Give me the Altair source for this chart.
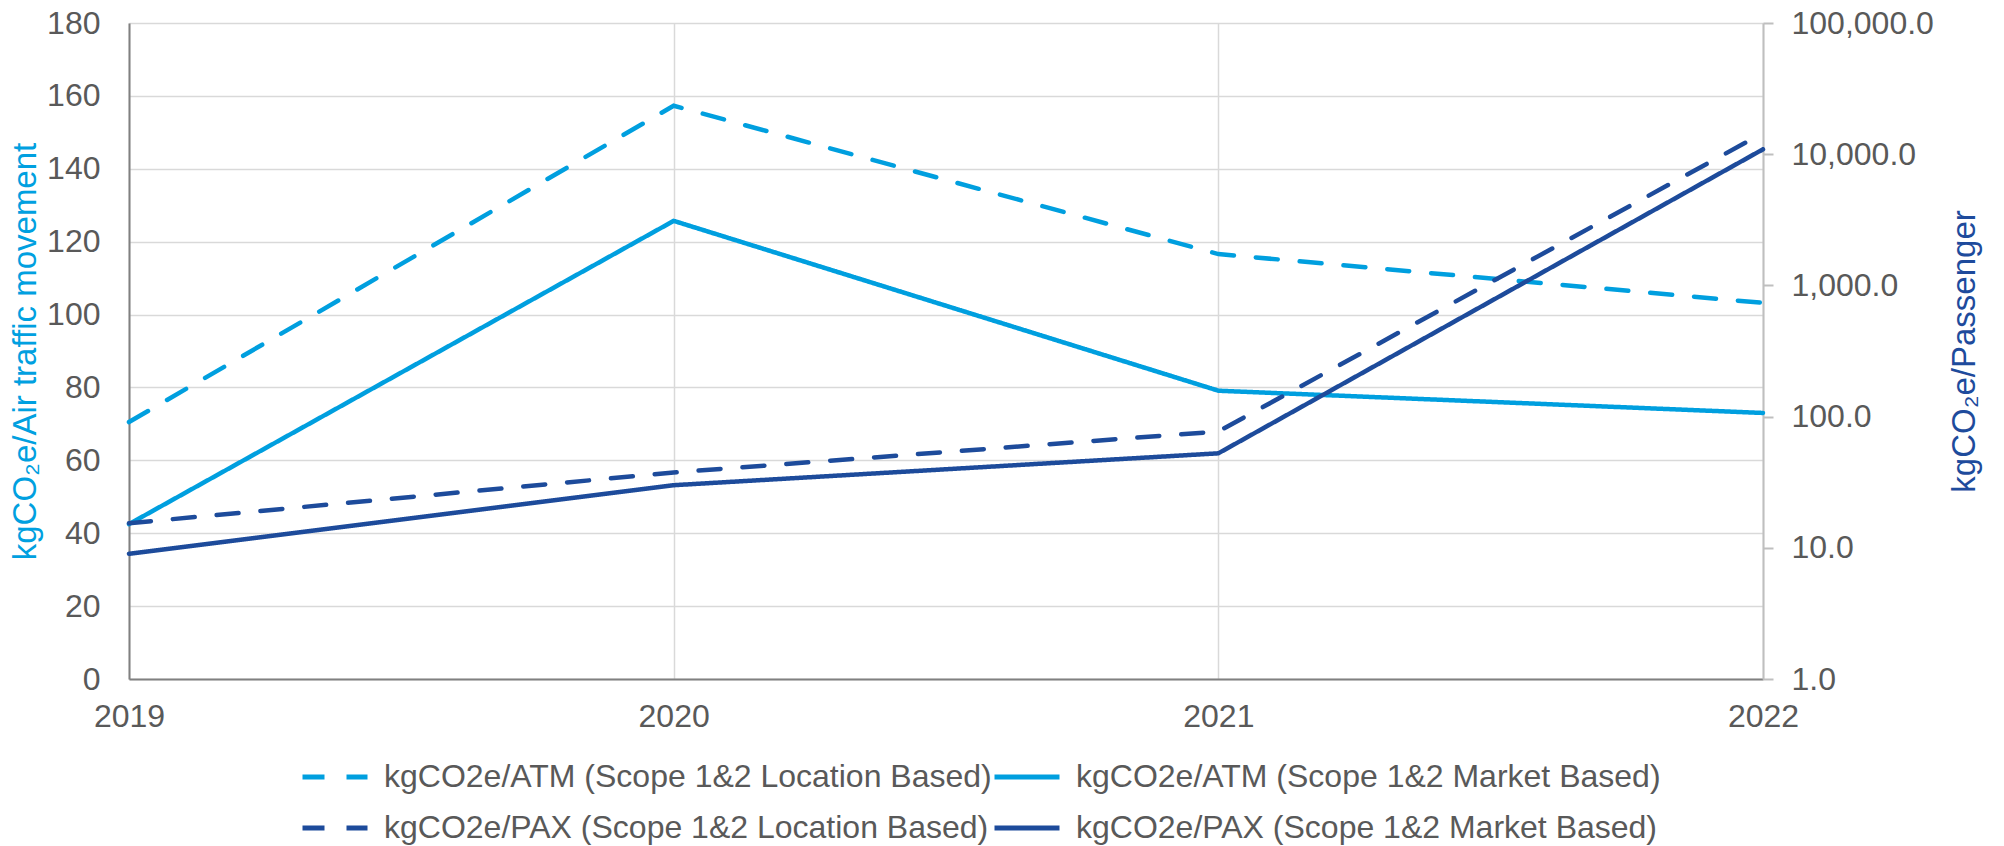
import altair as alt
import pandas as pd

years = [2019, 2020, 2021, 2022]
atm_location = [70.5, 157.3, 116.6, 103.2]
atm_market = [42.5, 125.7, 79.1, 73.0]
pax_location = [15.4, 37.5, 77.0, 14500.0]
pax_market = [9.0, 30.0, 52.5, 10900.0]

series_names = [
    "kgCO2e/ATM (Scope 1&2 Location Based)",
    "kgCO2e/ATM (Scope 1&2 Market Based)",
    "kgCO2e/PAX (Scope 1&2 Location Based)",
    "kgCO2e/PAX (Scope 1&2 Market Based)",
]
series_colors = ["#009FDF", "#009FDF", "#1D4B9B", "#1D4B9B"]
series_dashes = [[22, 22], [1, 0], [22, 22], [1, 0]]

left_ticks = list(range(0, 181, 20))
right_ticks = [1, 10, 100, 1000, 10000, 100000]

rows = []
for name, vals in zip(series_names, [atm_location, atm_market, pax_location, pax_market]):
    for y, v in zip(years, vals):
        rows.append({"year": y, "value": v, "series": name})
df = pd.DataFrame(rows)
atm_df = df[df["series"].isin(series_names[:2])]
pax_df = df[df["series"].isin(series_names[2:])]

FONT = "Liberation Sans"

legend_cfg = dict(
    orient="none",
    direction="horizontal",
    legendX=171,
    legendY=719,
    columns=2,
    symbolType="stroke",
    symbolSize=4225,
    symbolStrokeWidth=5,
    labelFontSize=32,
    labelFont=FONT,
    labelColor="#595959",
    labelLimit=1000,
    labelOffset=14,
    columnPadding=-8,
    rowPadding=-16,
)

color_enc = alt.Color(
    "series:N",
    scale=alt.Scale(domain=series_names, range=series_colors),
    legend=alt.Legend(**legend_cfg),
    title=None,
)
dash_enc = alt.StrokeDash(
    "series:N",
    scale=alt.Scale(domain=series_names, range=series_dashes),
    legend=alt.Legend(**legend_cfg),
    title=None,
)

x_scale = alt.Scale(domain=[2019, 2022], nice=False, zero=False)
x_axis = alt.Axis(
    values=years,
    format="d",
    title=None,
    ticks=False,
    tickSize=0,
    labelPadding=22,
    labelFlush=False,
    grid=True,
    domainColor="#808080",
)

left = alt.Chart(atm_df).mark_line(strokeWidth=4.5, strokeCap="round").encode(
    x=alt.X("year:Q", scale=x_scale, axis=x_axis),
    y=alt.Y(
        "value:Q",
        scale=alt.Scale(domain=[0, 180], nice=False),
        axis=alt.Axis(
            orient="left",
            values=left_ticks,
            title="kgCO₂e/Air traffic movement",
            titleColor="#00A0E0",
            titleFontSize=33,
            titleFont=FONT,
            titleFontWeight="normal",
            titlePadding=4,
            ticks=False,
            tickSize=0,
            labelPadding=29,
            grid=True,
            domainColor="#808080",
        ),
    ),
    color=color_enc,
    strokeDash=dash_enc,
)

right = alt.Chart(pax_df).mark_line(strokeWidth=4.5, strokeCap="round").encode(
    x=alt.X("year:Q", scale=x_scale, axis=x_axis),
    y=alt.Y(
        "value:Q",
        scale=alt.Scale(type="log", domain=[1, 100000], nice=False),
        axis=alt.Axis(
            orient="right",
            values=right_ticks,
            format=",.1f",
            title="kgCO₂e/Passenger",
            titleColor="#1E4B9C",
            titleFontSize=33,
            titleFont=FONT,
            titleFontWeight="normal",
            titleAngle=270,
            titleBaseline="top",
            titlePadding=15,
            ticks=True,
            tickSize=10,
            tickColor="#BFBFBF",
            tickWidth=2,
            labelPadding=18,
            grid=False,
            domainColor="#BFBFBF",
        ),
    ),
    color=color_enc,
    strokeDash=dash_enc,
)

chart = (
    alt.layer(left, right)
    .resolve_scale(y="independent")
    .properties(
        width=1634,
        height=656,
        autosize=alt.AutoSizeParams(type="none"),
        padding={"left": 121, "top": 15, "right": 233, "bottom": 166},
    )
    .configure_view(strokeWidth=0)
    .configure_axis(
        labelFont=FONT,
        labelFontSize=32,
        labelColor="#595959",
        gridColor="#D9D9D9",
        gridWidth=1.5,
        domainWidth=2,
    )
)

chart.save("out.html", embed_options={"renderer": "svg", "actions": False})
